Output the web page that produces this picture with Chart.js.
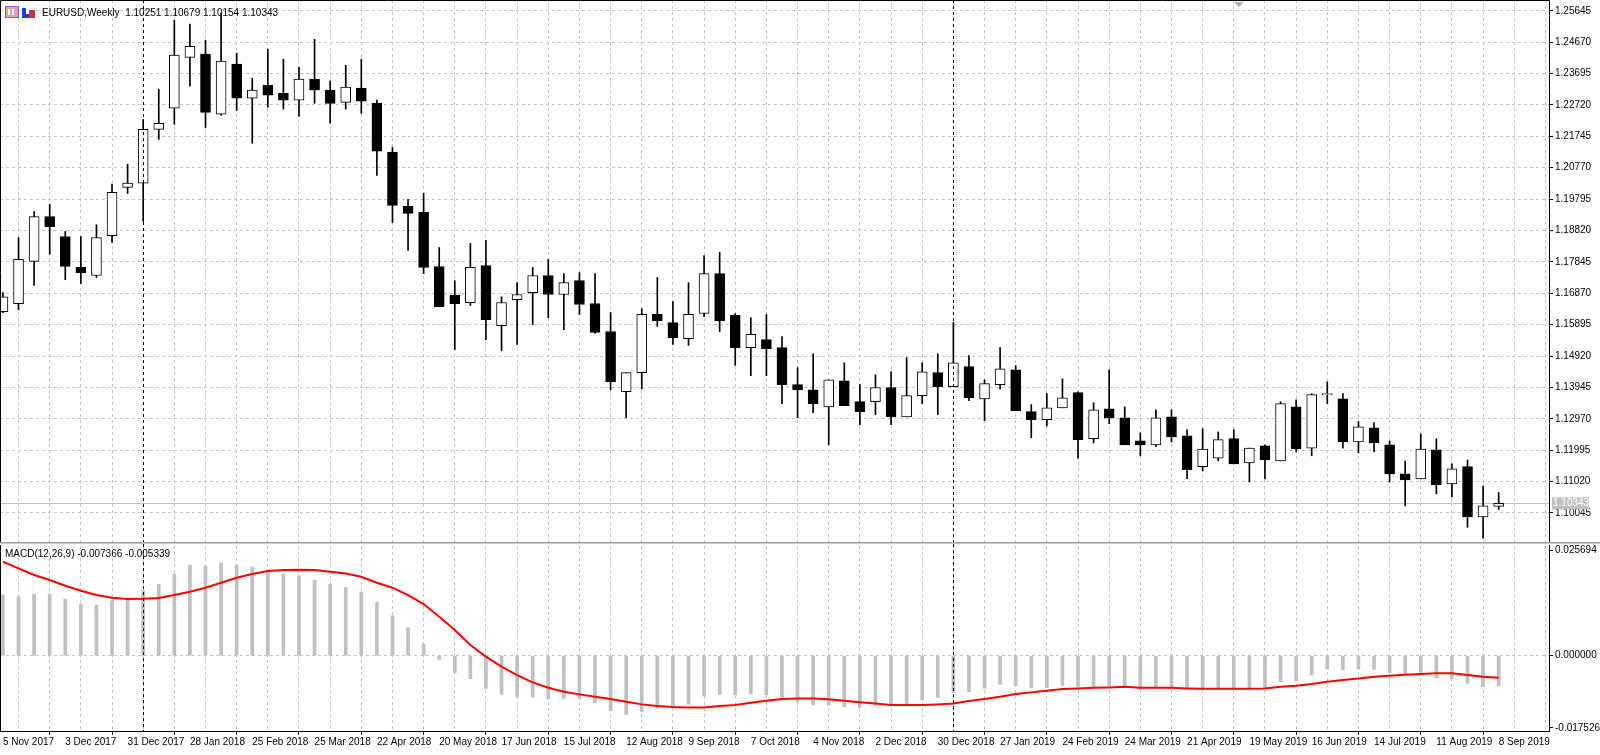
<!DOCTYPE html>
<html><head><meta charset="utf-8">
<script src="https://cdn.jsdelivr.net/npm/chart.js@4.4.1/dist/chart.umd.min.js"></script>
<style>
html,body{margin:0;padding:0;background:#fff;overflow:hidden}
#c1{position:absolute;left:0;top:0}
#c2{position:absolute;left:0;top:544px}
</style></head><body>
<canvas id="c1" width="1600" height="544"></canvas>
<canvas id="c2" width="1600" height="211"></canvas>
<script>
const tickLabels = ["5 Nov 2017","3 Dec 2017","31 Dec 2017","28 Jan 2018","25 Feb 2018","25 Mar 2018","22 Apr 2018","20 May 2018","17 Jun 2018","15 Jul 2018","12 Aug 2018","9 Sep 2018","7 Oct 2018","4 Nov 2018","2 Dec 2018","30 Dec 2018","27 Jan 2019","24 Feb 2019","24 Mar 2019","21 Apr 2019","19 May 2019","16 Jun 2019","14 Jul 2019","11 Aug 2019","8 Sep 2019"];
const priceTicks = [1.25645,1.24670,1.23695,1.22720,1.21745,1.20770,1.19795,1.18820,1.17845,1.16870,1.15895,1.14920,1.13945,1.12970,1.11995,1.11020,1.10045];
const macdTicks = [0.025694, 0.000000, -0.017526];
const separatorWeeks = [9, 61];
const open = [1.1630,1.1655,1.1786,1.1925,1.1863,1.1767,1.1742,1.1866,1.2016,1.2029,
1.2196,1.2262,1.2420,1.2430,1.2243,1.2399,1.2293,1.2333,1.2308,1.2287,
1.2352,1.2318,1.2280,1.2324,1.2277,1.2125,1.1957,1.1938,1.1770,1.1680,
1.1658,1.1773,1.1586,1.1667,1.1689,1.1742,1.1683,1.1726,1.1655,1.1568,
1.1381,1.1440,1.1621,1.1596,1.1546,1.1624,1.1748,1.1618,1.1518,1.1543,
1.1518,1.1403,1.1387,1.1334,1.1415,1.1350,1.1350,1.1394,1.1303,1.1369,
1.1440,1.1397,1.1459,1.1359,1.1403,1.1449,1.1319,1.1294,1.1331,1.1378,
1.1235,1.1328,1.1300,1.1228,1.1216,1.1303,1.1244,1.1148,1.1175,1.1235,
1.1160,1.1213,1.1166,1.1334,1.1206,1.1372,1.1359,1.1225,1.1269,1.1216,
1.1126,1.1110,1.1200,1.1095,1.1148,1.0992,1.10251];
const high = [1.1689,1.1860,1.1941,1.1963,1.1879,1.1863,1.1900,1.2026,1.2088,1.2227,
1.2321,1.2535,1.2523,1.2473,1.2557,1.2433,1.2355,1.2445,1.2414,1.2389,
1.2476,1.2346,1.2395,1.2414,1.2287,1.2140,1.1979,1.1997,1.1829,1.1726,
1.1842,1.1851,1.1676,1.1720,1.1767,1.1792,1.1748,1.1751,1.1748,1.1627,
1.1440,1.1639,1.1736,1.1661,1.1720,1.1804,1.1814,1.1624,1.1611,1.1621,
1.1552,1.1456,1.1499,1.1418,1.1471,1.1403,1.1434,1.1443,1.1487,1.1471,
1.1499,1.1596,1.1493,1.1418,1.1518,1.1462,1.1341,1.1375,1.1421,1.1381,
1.1347,1.1449,1.1334,1.1253,1.1325,1.1325,1.1263,1.1266,1.1256,1.1263,
1.1206,1.1216,1.1350,1.1356,1.1375,1.1412,1.1375,1.1288,1.1285,1.1228,
1.1166,1.1250,1.1235,1.1157,1.1169,1.1088,1.10679];
const low = [1.1627,1.1636,1.1711,1.1808,1.1729,1.1717,1.1736,1.1845,1.1997,1.1910,
1.2165,1.2212,1.2330,1.2202,1.2240,1.2255,1.2153,1.2265,1.2259,1.2237,
1.2277,1.2215,1.2259,1.2246,1.2053,1.1907,1.1820,1.1748,1.1645,1.1512,
1.1649,1.1543,1.1509,1.1528,1.1590,1.1611,1.1574,1.1621,1.1562,1.1387,
1.1300,1.1390,1.1584,1.1528,1.1525,1.1614,1.1568,1.1463,1.1431,1.1431,
1.1344,1.1300,1.1316,1.1216,1.1338,1.1279,1.1310,1.1279,1.1303,1.1344,
1.1310,1.1397,1.1353,1.1291,1.1390,1.1322,1.1238,1.1275,1.1331,1.1175,
1.1222,1.1282,1.1216,1.1182,1.1210,1.1225,1.1111,1.1135,1.1166,1.1157,
1.1101,1.1110,1.1166,1.1194,1.1182,1.1344,1.1206,1.1191,1.1194,1.1101,
1.1026,1.1110,1.1064,1.1054,1.0960,1.0926,1.10154];
const close = [1.1676,1.1792,1.1925,1.1894,1.1770,1.1751,1.1860,1.2000,1.2029,1.2196,
1.2215,1.2427,1.2454,1.2249,1.2408,1.2293,1.2318,1.2302,1.2287,1.2352,
1.2318,1.2277,1.2327,1.2284,1.2128,1.1960,1.1935,1.1767,1.1645,1.1655,
1.1767,1.1605,1.1658,1.1683,1.1742,1.1683,1.1720,1.1652,1.1565,1.1412,
1.1440,1.1621,1.1602,1.1549,1.1621,1.1748,1.1602,1.1518,1.1559,1.1515,
1.1403,1.1387,1.1344,1.1418,1.1338,1.1319,1.1394,1.1303,1.1369,1.1443,
1.1397,1.1471,1.1362,1.1406,1.1452,1.1322,1.1294,1.1331,1.1362,1.1232,
1.1325,1.1300,1.1216,1.1216,1.1300,1.1241,1.1139,1.1203,1.1232,1.1157,
1.1206,1.1169,1.1344,1.1203,1.1372,1.1375,1.1225,1.1272,1.1222,1.1126,
1.1107,1.1203,1.1092,1.1141,1.0992,1.1026,1.10343];
const macdMain = [0.01475,0.01434,0.01499,0.01499,0.01377,0.01256,0.01232,0.01337,0.01369,0.0158,
0.01734,0.01985,0.02204,0.0218,0.02253,0.02204,0.02155,0.02082,0.01985,0.01945,
0.01839,0.01734,0.01661,0.01548,0.01304,0.00972,0.00681,0.00284,-0.00089,-0.00413,
-0.00559,-0.00794,-0.0094,-0.01005,-0.01005,-0.01053,-0.01037,-0.01053,-0.01142,-0.01337,
-0.01426,-0.01361,-0.0128,-0.0124,-0.01175,-0.0098,-0.0094,-0.00956,-0.00932,-0.00956,
-0.01078,-0.01118,-0.01199,-0.01199,-0.0124,-0.01256,-0.01199,-0.01199,-0.01175,-0.01078,
-0.01013,-0.00899,-0.00875,-0.00794,-0.00697,-0.00729,-0.00778,-0.00778,-0.00729,-0.00754,
-0.00754,-0.00729,-0.00754,-0.00818,-0.0078,-0.0078,-0.0081,-0.0081,-0.00778,-0.00794,
-0.00794,-0.00794,-0.00632,-0.00608,-0.0047,-0.00324,-0.00348,-0.00324,-0.00332,-0.00413,
-0.00446,-0.00405,-0.00535,-0.00551,-0.00673,-0.00754,-0.007366];
const macdSignal = [0.02285,0.02123,0.01961,0.01839,0.01702,0.0158,0.01475,0.0141,0.01377,0.01386,
0.01402,0.01475,0.01556,0.01653,0.01774,0.01896,0.01985,0.02058,0.02082,0.0209,
0.02082,0.02042,0.02001,0.0192,0.01774,0.01653,0.01475,0.01256,0.00948,0.00624,
0.00259,-0.00024,-0.00267,-0.0047,-0.00648,-0.00778,-0.00875,-0.0094,-0.00997,-0.01053,
-0.01118,-0.01183,-0.01223,-0.01248,-0.01256,-0.01256,-0.01223,-0.01199,-0.01142,-0.01094,
-0.01053,-0.01037,-0.01037,-0.01061,-0.01094,-0.01134,-0.01159,-0.01199,-0.01199,-0.01199,
-0.01183,-0.01159,-0.01102,-0.01053,-0.00997,-0.00932,-0.00891,-0.00851,-0.0081,-0.00794,
-0.00778,-0.0077,-0.00754,-0.00778,-0.00778,-0.00778,-0.00794,-0.00802,-0.00802,-0.00802,
-0.00802,-0.00794,-0.00754,-0.00729,-0.00689,-0.00632,-0.00591,-0.00551,-0.0051,-0.00486,
-0.00462,-0.00446,-0.00429,-0.00429,-0.0047,-0.0051,-0.005339];

Chart.defaults.font.family = "'Liberation Sans', Arial, sans-serif";
Chart.defaults.font.size = 10;
Chart.defaults.color = '#000';
Chart.defaults.animation = false;
Chart.defaults.devicePixelRatio = 1;

const X_MIN = -0.19, X_MAX = 99.23;
const GRID = '#c4c4c4';
const evenTicks = [];
for (let i = 0; i <= 98; i += 2) evenTicks.push(i);

function noPad(s) { s.paddingTop = 0; s.paddingBottom = 0; s.paddingLeft = 0; s.paddingRight = 0; }

function xScale(showLabels) {
  return {
    type: 'linear', min: X_MIN, max: X_MAX, offset: false,
    afterBuildTicks: s => { s.ticks = evenTicks.map(v => ({value: v})); },
    afterFit: s => { s.height = showLabels ? 24 : 0; noPad(s); },
    ticks: {
      display: showLabels, autoSkip: false, maxRotation: 0, align: 'start', padding: 1,
      callback: v => (v % 4 === 0 && tickLabels[v / 4]) ? tickLabels[v / 4] : ''
    },
    grid: {
      color: c => (c.tick && c.tick.value === 0) ? 'rgba(0,0,0,0)' : GRID,
      drawTicks: showLabels, tickLength: 4,
      tickColor: c => (c.tick && c.tick.value % 4 === 0) ? '#000' : 'rgba(0,0,0,0)'
    },
    border: {display: showLabels, color: '#000', dash: [3, 3]}
  };
}

const idx = open.map((_, i) => i);

const decor1 = {
  id: 'decor1',
  beforeDatasetsDraw(chart) {
    const {ctx, chartArea: a, scales} = chart;
    const y = scales.y.getPixelForValue(close[close.length - 1]);
    ctx.save();
    ctx.strokeStyle = '#c0c0c0'; ctx.lineWidth = 1;
    ctx.beginPath(); ctx.moveTo(a.left, Math.round(y) + 0.5); ctx.lineTo(a.right, Math.round(y) + 0.5); ctx.stroke();
    ctx.restore();
  },
  afterDraw(chart) {
    const {ctx, chartArea: a, scales} = chart;
    ctx.save();
    ctx.strokeStyle = '#000'; ctx.setLineDash([3, 3]); ctx.lineWidth = 1;
    separatorWeeks.forEach(w => {
      const x = Math.round(scales.x.getPixelForValue(w)) + 0.5;
      ctx.beginPath(); ctx.moveTo(x, a.top); ctx.lineTo(x, a.bottom); ctx.stroke();
    });
    ctx.setLineDash([]);
    ctx.strokeStyle = '#000';
    ctx.beginPath(); ctx.moveTo(0.5, a.bottom); ctx.lineTo(0.5, 0.5); ctx.lineTo(a.right + 0.5, 0.5); ctx.lineTo(a.right + 0.5, a.bottom); ctx.stroke();
    ctx.strokeStyle = '#a0a0a0'; ctx.lineWidth = 1;
    ctx.beginPath(); ctx.moveTo(0, a.bottom - 1.5); ctx.lineTo(chart.width, a.bottom - 1.5); ctx.stroke();
    ctx.strokeStyle = '#c8c8c8';
    ctx.beginPath(); ctx.moveTo(0, a.bottom - 0.5); ctx.lineTo(chart.width, a.bottom - 0.5); ctx.stroke();
    const yl = scales.y.getPixelForValue(close[close.length - 1]);
    ctx.fillStyle = '#c0c0c0';
    ctx.fillRect(a.right + 3, yl - 6, 37, 12);
    ctx.fillStyle = '#fff'; ctx.font = "10px 'Liberation Sans'"; ctx.textBaseline = 'middle'; ctx.textAlign = 'left';
    ctx.fillText(close[close.length - 1].toFixed(5), a.right + 4, yl);
    ctx.fillStyle = '#b0b0b0';
    ctx.beginPath(); ctx.moveTo(1234, 2); ctx.lineTo(1244, 2); ctx.lineTo(1239, 7); ctx.closePath(); ctx.fill();
    ctx.fillStyle = '#e8a0a0'; ctx.fillRect(6, 7, 12, 10);
    ctx.strokeStyle = '#6070c0'; ctx.strokeRect(5.5, 6.5, 13, 11);
    ctx.fillStyle = '#fff'; ctx.fillRect(8, 9, 2, 6); ctx.fillRect(12, 9, 2, 6);
    ctx.fillStyle = '#2040d0'; ctx.fillRect(22, 8, 4, 10);
    ctx.fillStyle = '#d03030'; ctx.fillRect(29, 10, 6, 8);
    ctx.fillStyle = '#2040d0'; ctx.fillRect(26, 14, 3, 4);
    ctx.fillStyle = '#000'; ctx.font = "10px 'Liberation Sans'"; ctx.textBaseline = 'middle';
    ctx.fillText('EURUSD,Weekly  ' + [open, high, low, close].map(a2 => a2[a2.length - 1].toFixed(5)).join(' '), 42, 13);
    ctx.restore();
  }
};

new Chart(document.getElementById('c1'), {
  type: 'bar',
  data: {
    datasets: [
      {
        label: 'wick', order: 2, grouped: false,
        data: idx.map(i => ({x: i, y: [low[i], high[i]]})),
        backgroundColor: '#000', borderWidth: 0, barThickness: 1
      },
      {
        label: 'body', order: 1, grouped: false,
        data: idx.map(i => ({x: i, y: [Math.min(open[i], close[i]), Math.max(open[i], close[i]) + 0.00002]})),
        backgroundColor: idx.map(i => close[i] < open[i] ? '#000' : '#fff'),
        borderColor: '#000', borderWidth: 1, borderSkipped: false, barThickness: 10
      }
    ]
  },
  options: {
    responsive: false,
    layout: {padding: 0},
    plugins: {legend: {display: false}, tooltip: {enabled: false}},
    scales: {
      x: xScale(false),
      y: {
        position: 'right', min: 1.0908, max: 1.2598,
        afterBuildTicks: s => { s.ticks = priceTicks.map(v => ({value: v})); },
        afterFit: s => { s.width = 51; noPad(s); },
        ticks: {callback: v => Number(v).toFixed(5), padding: 2, font: {size: 10}},
        grid: {color: GRID, tickLength: 4, tickColor: '#000'},
        border: {display: false, dash: [3, 3]}
      }
    }
  },
  plugins: [decor1]
});

const decor2 = {
  id: 'decor2',
  afterDraw(chart) {
    const {ctx, chartArea: a, scales} = chart;
    ctx.save();
    ctx.strokeStyle = '#000'; ctx.setLineDash([3, 3]); ctx.lineWidth = 1;
    separatorWeeks.forEach(w => {
      const x = Math.round(scales.x.getPixelForValue(w)) + 0.5;
      ctx.beginPath(); ctx.moveTo(x, 0); ctx.lineTo(x, a.bottom); ctx.stroke();
    });
    ctx.setLineDash([]);
    ctx.strokeStyle = '#000';
    ctx.beginPath(); ctx.moveTo(0.5, 1); ctx.lineTo(0.5, a.bottom + 0.5); ctx.lineTo(a.right + 0.5, a.bottom + 0.5); ctx.lineTo(a.right + 0.5, 1); ctx.stroke();
    ctx.fillStyle = '#000'; ctx.font = "10px 'Liberation Sans'"; ctx.textBaseline = 'middle'; ctx.textAlign = 'left';
    ctx.fillText('MACD(12,26,9) ' + macdMain[macdMain.length - 1].toFixed(6) + ' ' + macdSignal[macdSignal.length - 1].toFixed(6), 5, 10);
    ctx.restore();
  }
};

new Chart(document.getElementById('c2'), {
  type: 'bar',
  data: {
    datasets: [
      {
        type: 'line', label: 'Signal', order: 1,
        data: idx.map(i => ({x: i, y: macdSignal[i]})),
        borderColor: '#ff0000', borderWidth: 2, pointRadius: 0, tension: 0, fill: false
      },
      {
        label: 'MACD', order: 2, grouped: false,
        data: idx.map(i => ({x: i, y: macdMain[i]})),
        backgroundColor: '#c0c0c0', borderWidth: 0, barThickness: 3
      }
    ]
  },
  options: {
    responsive: false,
    layout: {padding: {top: 2, left: 0, right: 0, bottom: 0}},
    plugins: {legend: {display: false}, tooltip: {enabled: false}},
    scales: {
      x: xScale(true),
      y: {
        position: 'right', min: -0.0183, max: 0.02667,
        afterBuildTicks: s => { s.ticks = macdTicks.map(v => ({value: v})); },
        afterFit: s => { s.width = 51; noPad(s); },
        ticks: {callback: v => Number(v).toFixed(6), padding: 2, font: {size: 10}},
        grid: {color: c => (c.tick && c.tick.value === 0) ? GRID : 'rgba(0,0,0,0)', tickLength: 4, tickColor: '#000'},
        border: {display: false, dash: [3, 3]}
      }
    }
  },
  plugins: [decor2]
});
</script>
</body></html>
